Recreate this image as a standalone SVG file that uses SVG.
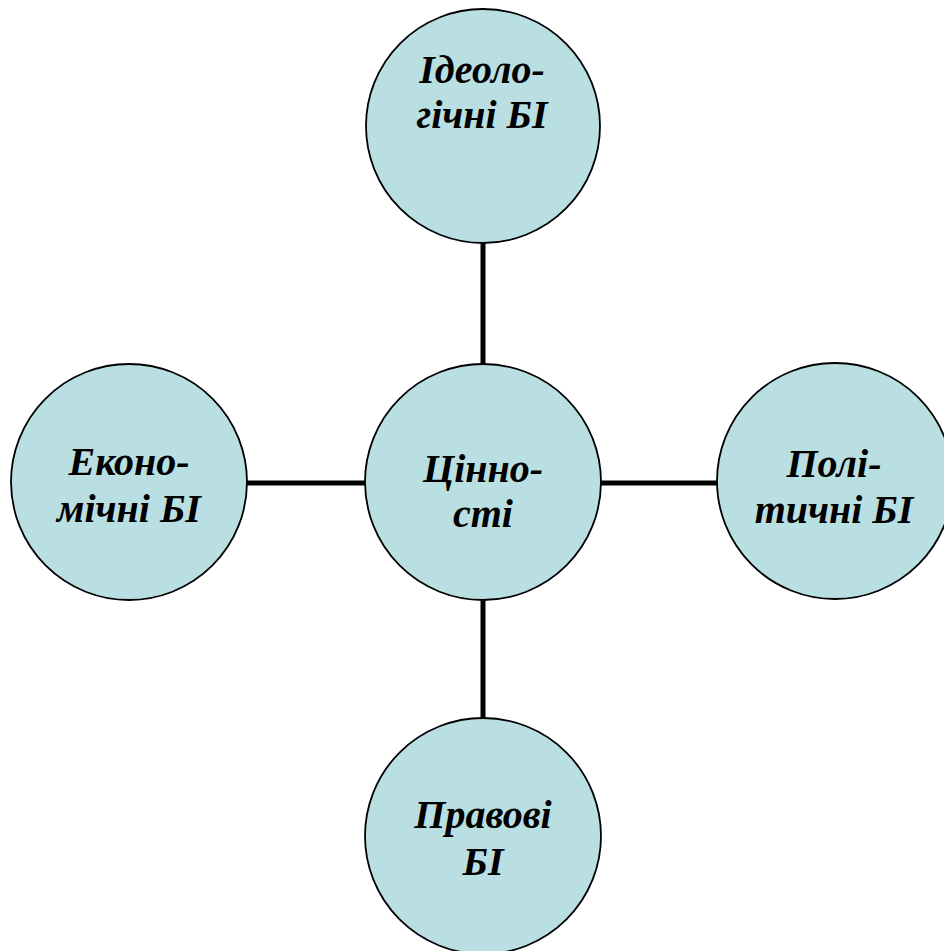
<svg xmlns="http://www.w3.org/2000/svg" width="944" height="951" viewBox="0 0 944 951">
<style>
.n{fill:#B9DFE3;stroke:#000;stroke-width:1.8}
.c{stroke:#000;stroke-width:5;fill:none}
text{font-family:"Liberation Serif","Times New Roman",serif;font-weight:bold;font-style:italic;font-size:40px;text-anchor:middle;fill:#000}
</style>
<rect width="944" height="951" fill="#fff"/>
<g id="connectors">
<line class="c" x1="483" y1="243" x2="483" y2="366"/>
<line class="c" x1="483" y1="600" x2="483" y2="718"/>
<line class="c" x1="246" y1="483" x2="366" y2="483"/>
<line class="c" x1="600" y1="483" x2="718" y2="483"/>
</g>
<g id="n-top">
<circle class="n" cx="483" cy="126" r="117"/>
<text x="482" y="83">Ідеоло-</text>
<text x="482" y="128">гічні БІ</text>
</g>
<g id="n-center">
<circle class="n" cx="483" cy="482" r="118"/>
<text x="483" y="482">Цінно-</text>
<text x="483" y="527">сті</text>
</g>
<g id="n-left">
<circle class="n" cx="129" cy="482" r="118"/>
<text x="129" y="475">Еконо-</text>
<text x="129" y="522">мічні БІ</text>
</g>
<g id="n-right">
<circle class="n" cx="835" cy="481" r="118"/>
<text x="834" y="477">Полі-</text>
<text x="834" y="523">тичні БІ</text>
</g>
<g id="n-bottom">
<circle class="n" cx="483" cy="836" r="118"/>
<text x="483" y="828">Правові</text>
<text x="483" y="875">БІ</text>
</g>
</svg>
